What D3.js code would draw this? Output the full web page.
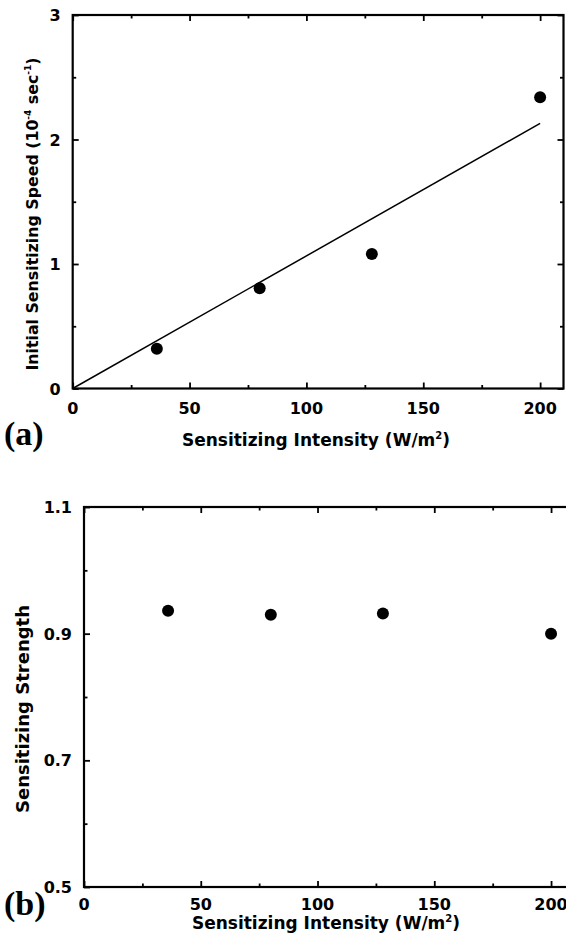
<!DOCTYPE html>
<html>
<head>
<meta charset="utf-8">
<script src="https://cdn.jsdelivr.net/npm/d3@7"></script>
<style>
  html, body { margin: 0; padding: 0; background: #fff; }
  svg { display: block; }
  text { font-family: "DejaVu Sans", "Liberation Sans", Arial, sans-serif; font-weight: bold; fill: #000; }
  .panel-label { font-family: "Liberation Serif", "Times New Roman", serif; font-weight: bold; }
</style>
</head>
<body>
<script>
// ---- Data ----
const intensityA = [36, 80, 128, 200];
const speedA = [0.32, 0.805, 1.08, 2.34];
const fitX = [0, 200];
const fitY = [0, 2.13];

const intensityB = [36, 80, 128, 200];
const strengthB = [0.936, 0.930, 0.932, 0.900];

const xTicksMajor = [0, 50, 100, 150, 200];
const xTicksMinor = [25, 75, 125, 175];
const yTicksMajorA = [0, 1, 2, 3];
const yTicksMinorA = [0.5, 1.5, 2.5];
const yTicksMajorB = [0.5, 0.7, 0.9, 1.1];
const yTicksMinorB = [0.6, 0.8, 1.0];

const W = 566, H = 937;
const svg = d3.select("body").append("svg").attr("width", W).attr("height", H);

function panel(cfg) {
  const g = svg.append("g");
  const x = d3.scaleLinear().domain([0, 210]).range([cfg.left, cfg.right]);
  const y = d3.scaleLinear().domain(cfg.yDomain).range([cfg.bottom, cfg.top]);

  const mk = (axisFn, scale, ticks, size) =>
    axisFn(scale).tickValues(ticks).tickSizeInner(size).tickSizeOuter(0).tickFormat("");

  const addAxis = (axis, tx, ty) => {
    const a = g.append("g").attr("transform", `translate(${tx},${ty})`).call(axis);
    a.select(".domain").remove();
    a.selectAll(".tick line").attr("stroke", "#000").attr("stroke-width", 1.8);
    return a;
  };
  addAxis(mk(d3.axisTop, x, xTicksMajor, 6), 0, cfg.bottom);
  addAxis(mk(d3.axisTop, x, xTicksMinor, 3.5), 0, cfg.bottom);
  addAxis(mk(d3.axisBottom, x, xTicksMajor, 6), 0, cfg.top);
  addAxis(mk(d3.axisBottom, x, xTicksMinor, 3.5), 0, cfg.top);
  addAxis(mk(d3.axisRight, y, cfg.yMajor, 6), cfg.left, 0);
  addAxis(mk(d3.axisRight, y, cfg.yMinor, 3.5), cfg.left, 0);
  addAxis(mk(d3.axisLeft, y, cfg.yMajor, 6), cfg.right, 0);
  addAxis(mk(d3.axisLeft, y, cfg.yMinor, 3.5), cfg.right, 0);

  g.append("rect")
    .attr("x", cfg.left).attr("y", cfg.top)
    .attr("width", cfg.right - cfg.left).attr("height", cfg.bottom - cfg.top)
    .attr("fill", "none").attr("stroke", "#000").attr("stroke-width", 2.2);

  g.selectAll(".xl").data(xTicksMajor).join("text")
    .attr("x", d => x(d)).attr("y", cfg.bottom + cfg.xLabOff)
    .attr("text-anchor", "middle").attr("font-size", 16)
    .text(d => d);
  g.selectAll(".yl").data(cfg.yMajor).join("text")
    .attr("x", cfg.left - 12).attr("y", d => y(d) + 6)
    .attr("text-anchor", "end").attr("font-size", 16)
    .text(cfg.yFmt);

  const xt = g.append("text")
    .attr("x", cfg.xTitleX).attr("y", cfg.xTitleY)
    .attr("text-anchor", "middle").attr("font-size", 17);
  xt.append("tspan").text("Sensitizing Intensity (W/m");
  xt.append("tspan").attr("dy", -7).attr("font-size", 10).text("2");
  xt.append("tspan").attr("dy", 7).text(")");

  const yt = g.append("text")
    .attr("transform", `translate(${cfg.yTitleX},${cfg.yTitleY}) rotate(-90)`)
    .attr("text-anchor", "middle").attr("font-size", cfg.yTitleSize);
  cfg.yTitle(yt);

  g.append("text").attr("class", "panel-label")
    .attr("x", cfg.labelX).attr("y", cfg.labelY)
    .attr("font-size", 34).text(cfg.label);

  return { g, x, y };
}

// Panel (a)
const A = panel({
  left: 72.7, right: 563.5, top: 15, bottom: 388.5,
  yDomain: [0, 3], yMajor: yTicksMajorA, yMinor: yTicksMinorA,
  yFmt: d => d, xLabOff: 25,
  xTitleX: 316, xTitleY: 446,
  yTitleX: 38, yTitleY: 214, yTitleSize: 15.8,
  yTitle: t => {
    t.append("tspan").text("Initial Sensitizing Speed (10");
    t.append("tspan").attr("dy", -7).attr("font-size", 9).text("-4");
    t.append("tspan").attr("dy", 7).text(" sec");
    t.append("tspan").attr("dy", -7).attr("font-size", 9).text("-1");
    t.append("tspan").attr("dy", 7).text(")");
  },
  label: "(a)", labelX: 4, labelY: 445
});
A.g.append("path")
  .datum(fitX.map((d, i) => [d, fitY[i]]))
  .attr("d", d3.line().x(d => A.x(d[0])).y(d => A.y(d[1])))
  .attr("fill", "none").attr("stroke", "#000").attr("stroke-width", 1.5);
A.g.selectAll("circle").data(intensityA).join("circle")
  .attr("cx", d => A.x(d)).attr("cy", (d, i) => A.y(speedA[i]))
  .attr("r", 6).attr("fill", "#000");

// Panel (b)
const B = panel({
  left: 84, right: 574.4, top: 507, bottom: 887,
  yDomain: [0.5, 1.1], yMajor: yTicksMajorB, yMinor: yTicksMinorB,
  yFmt: d => d3.format(".1f")(d), xLabOff: 23,
  xTitleX: 326, xTitleY: 929,
  yTitleX: 29, yTitleY: 709, yTitleSize: 18,
  yTitle: t => t.text("Sensitizing Strength"),
  label: "(b)", labelX: 4, labelY: 915
});
B.g.selectAll("circle").data(intensityB).join("circle")
  .attr("cx", d => B.x(d)).attr("cy", (d, i) => B.y(strengthB[i]))
  .attr("r", 6).attr("fill", "#000");
</script>
</body>
</html>
